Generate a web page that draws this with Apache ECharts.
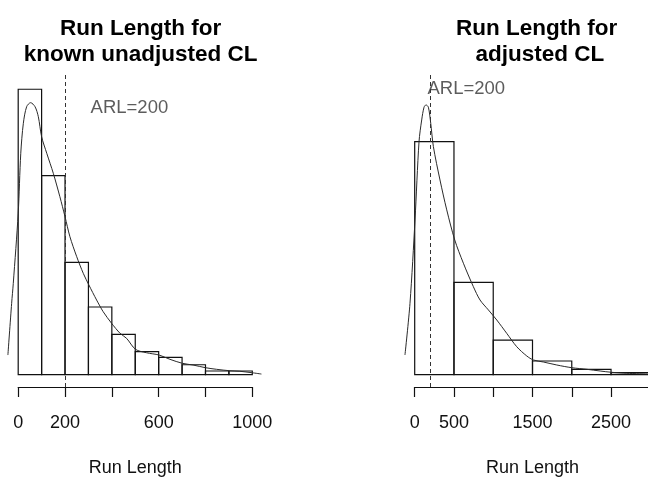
<!DOCTYPE html>
<html>
<head>
<meta charset="utf-8">
<title>Run Length histograms</title>
<script src="https://cdn.jsdelivr.net/npm/echarts@6/dist/echarts.min.js"></script>
<style>
  html, body { margin: 0; padding: 0; background: #fff; }
  #chart { width: 648px; height: 481px; }
</style>
</head>
<body>
<div id="chart"></div>
<script>
// Histogram bins (break points) and densities, left panel: known unadjusted CL
const leftBreaks = [0, 100, 200, 300, 400, 500, 600, 700, 800, 900, 1000];
const leftDensity = [0.003742, 0.002609, 0.001474, 0.000888, 0.000530, 0.000302, 0.000228, 0.000131, 0.0000485, 0.0000485];

// Kernel density estimate, left panel
const leftKdeX = [-44, -28, -21, 0, 11, 22, 36, 53, 72, 86, 100, 122, 150, 178, 200, 221, 250, 278, 302, 335, 363, 399, 435, 463, 501, 548, 602, 648, 702, 747, 800, 847, 904, 947, 999, 1039];
const leftKdeY = [0.000258, 0.000936, 0.001198, 0.002116, 0.002903, 0.003296, 0.003513, 0.003566, 0.003513, 0.003382, 0.003120, 0.002903, 0.002640, 0.002334, 0.002071, 0.001809, 0.001547, 0.001329, 0.001176, 0.000979, 0.000826, 0.000674, 0.000543, 0.000477, 0.000333, 0.000288, 0.000258, 0.000202, 0.000149, 0.000127, 0.000092, 0.000071, 0.000052, 0.000045, 0.000026, 0.000009];

// Histogram bins and densities, right panel: adjusted CL
const rightBreaks = [0, 500, 1000, 1500, 2000, 2500, 3000];
const rightDensity = [0.001223, 0.000485, 0.000181, 0.0000719, 0.0000283, 0.0000105];

// Kernel density estimate, right panel
const rightKdeX = [-124, -60, 4, 55, 89, 119, 144, 174, 204, 238, 322, 408, 510, 620, 747, 832, 938, 1045, 1172, 1299, 1427, 1511, 1638, 1809, 2000, 2191, 2361, 2505, 2701, 2972];
const rightKdeY = [0.0001034, 0.0003748, 0.000812, 0.001223, 0.001337, 0.001404, 0.001416, 0.001404, 0.001320, 0.001197, 0.001022, 0.000865, 0.000707, 0.000585, 0.000462, 0.000392, 0.000340, 0.000287, 0.000217, 0.000147, 0.0000982, 0.0000772, 0.0000667, 0.0000509, 0.0000367, 0.0000283, 0.0000194, 0.0000126, 0.0000073, 0.0000037];

// Reference line (target average run length)
const arl = 200;
const arlLabel = 'ARL=200';

// Tick labels shown on each x axis (the rest stay unlabelled)
const leftTickLabels = [0, 200, 600, 1000];
const rightTickLabels = [0, 500, 1500, 2500];

const FONT = '"Liberation Sans", Arial, Helvetica, sans-serif';

// Panel geometry: the axis spans [0, axisMax]; the plotting window is wider
// so the density curve can run past both ends of the axis.
const PLOT_TOP = 75, PLOT_H = 312;
const panels = [
  { axisLeft: 18.2, axisWidth: 234.1, axisMax: 1000, interval: 200, winMin: -60, winMax: 1100,
    yMin: -0.000161, yMax: 0.003929 },
  { axisLeft: 414.7, axisWidth: 235.6, axisMax: 3000, interval: 500, winMin: -150, winMax: 3000,
    yMin: -0.0000646, yMax: 0.001573 }
];

function histData(breaks, dens) {
  return dens.map((d, i) => [breaks[i], breaks[i + 1], d]);
}
function zip(xs, ys) {
  return xs.map((x, i) => [x, ys[i]]);
}

function renderBin(params, api) {
  const p0 = api.coord([api.value(0), 0]);
  const p1 = api.coord([api.value(1), api.value(2)]);
  return {
    type: 'rect',
    shape: { x: p0[0], y: p1[1], width: p1[0] - p0[0], height: p0[1] - p1[1] },
    style: { fill: 'rgba(0,0,0,0)', stroke: '#111', lineWidth: 1.2 }
  };
}

const grids = [], xAxes = [], yAxes = [];
panels.forEach((p, k) => {
  const pxPerUnit = p.axisWidth / p.axisMax;
  // axis grid
  grids.push({ left: p.axisLeft, top: PLOT_TOP, width: p.axisWidth, height: PLOT_H, outerBoundsMode: 'none', containLabel: false });
  // curve grid (same scale, wider window)
  grids.push({
    left: p.axisLeft + p.winMin * pxPerUnit, top: PLOT_TOP,
    width: (p.winMax - p.winMin) * pxPerUnit, height: PLOT_H, outerBoundsMode: 'none', containLabel: false
  });
  const shown = k === 0 ? leftTickLabels : rightTickLabels;
  xAxes.push({
    gridIndex: 2 * k, type: 'value', min: 0, max: p.axisMax, interval: p.interval,
    position: 'bottom',
    splitLine: { show: false },
    axisLine: { onZero: false, lineStyle: { color: '#111', width: 1.2 } },
    axisTick: { length: 10, lineStyle: { color: '#111', width: 1.2 } },
    axisLabel: {
      margin: 27, fontSize: 18, color: '#111', fontFamily: FONT,
      formatter: v => (shown.indexOf(v) >= 0 ? String(v) : '')
    },
    name: 'Run Length', nameLocation: 'middle', nameGap: 72,
    nameTextStyle: { fontSize: 18, color: '#111', fontFamily: FONT }
  });
  xAxes.push({ gridIndex: 2 * k + 1, type: 'value', min: p.winMin, max: p.winMax, show: false });
  yAxes.push({ gridIndex: 2 * k, type: 'value', min: p.yMin, max: p.yMax, show: false });
  yAxes.push({ gridIndex: 2 * k + 1, type: 'value', min: p.yMin, max: p.yMax, show: false });
});

const markLineFor = {
  silent: true, symbol: 'none', label: { show: false },
  lineStyle: { type: [4, 3], color: '#333', width: 1 },
  data: [{ xAxis: arl }]
};

function panelSeries(k, breaks, dens, kx, ky, labelAt) {
  return [
    {
      type: 'custom', xAxisIndex: 2 * k, yAxisIndex: 2 * k,
      renderItem: renderBin, data: histData(breaks, dens)
    },
    {
      type: 'line', xAxisIndex: 2 * k + 1, yAxisIndex: 2 * k + 1, data: zip(kx, ky),
      smooth: 0.3, showSymbol: false,
      lineStyle: { color: '#2a2a2a', width: 1 },
      markLine: markLineFor
    },
    {
      type: 'scatter', xAxisIndex: 2 * k + 1, yAxisIndex: 2 * k + 1, data: [labelAt],
      symbolSize: 0, silent: true,
      label: { show: true, position: 'inside', formatter: arlLabel, fontSize: 18.5, color: '#333', fontFamily: FONT }
    }
  ];
}

const chart = echarts.init(document.getElementById('chart'), null, { renderer: 'canvas' });

chart.setOption({
  backgroundColor: '#fff',
  animation: false,
  title: [
    {
      text: 'Run Length for\nknown unadjusted CL', left: 135.6, top: 11, textAlign: 'center',
      textStyle: { fontSize: 22.5, fontWeight: 'bold', color: '#000', fontFamily: FONT, lineHeight: 26 }
    },
    {
      text: 'Run Length for\n adjusted CL', left: 531.7, top: 11, textAlign: 'center',
      textStyle: { fontSize: 22.5, fontWeight: 'bold', color: '#000', fontFamily: FONT, lineHeight: 26 }
    }
  ],
  grid: grids,
  xAxis: xAxes,
  yAxis: yAxes,
  series: [].concat(
    panelSeries(0, leftBreaks, leftDensity, leftKdeX, leftKdeY, [475, 0.003493]),
    panelSeries(1, rightBreaks, rightDensity, rightKdeX, rightKdeY, [657, 0.001499])
  )
});
</script>
</body>
</html>
